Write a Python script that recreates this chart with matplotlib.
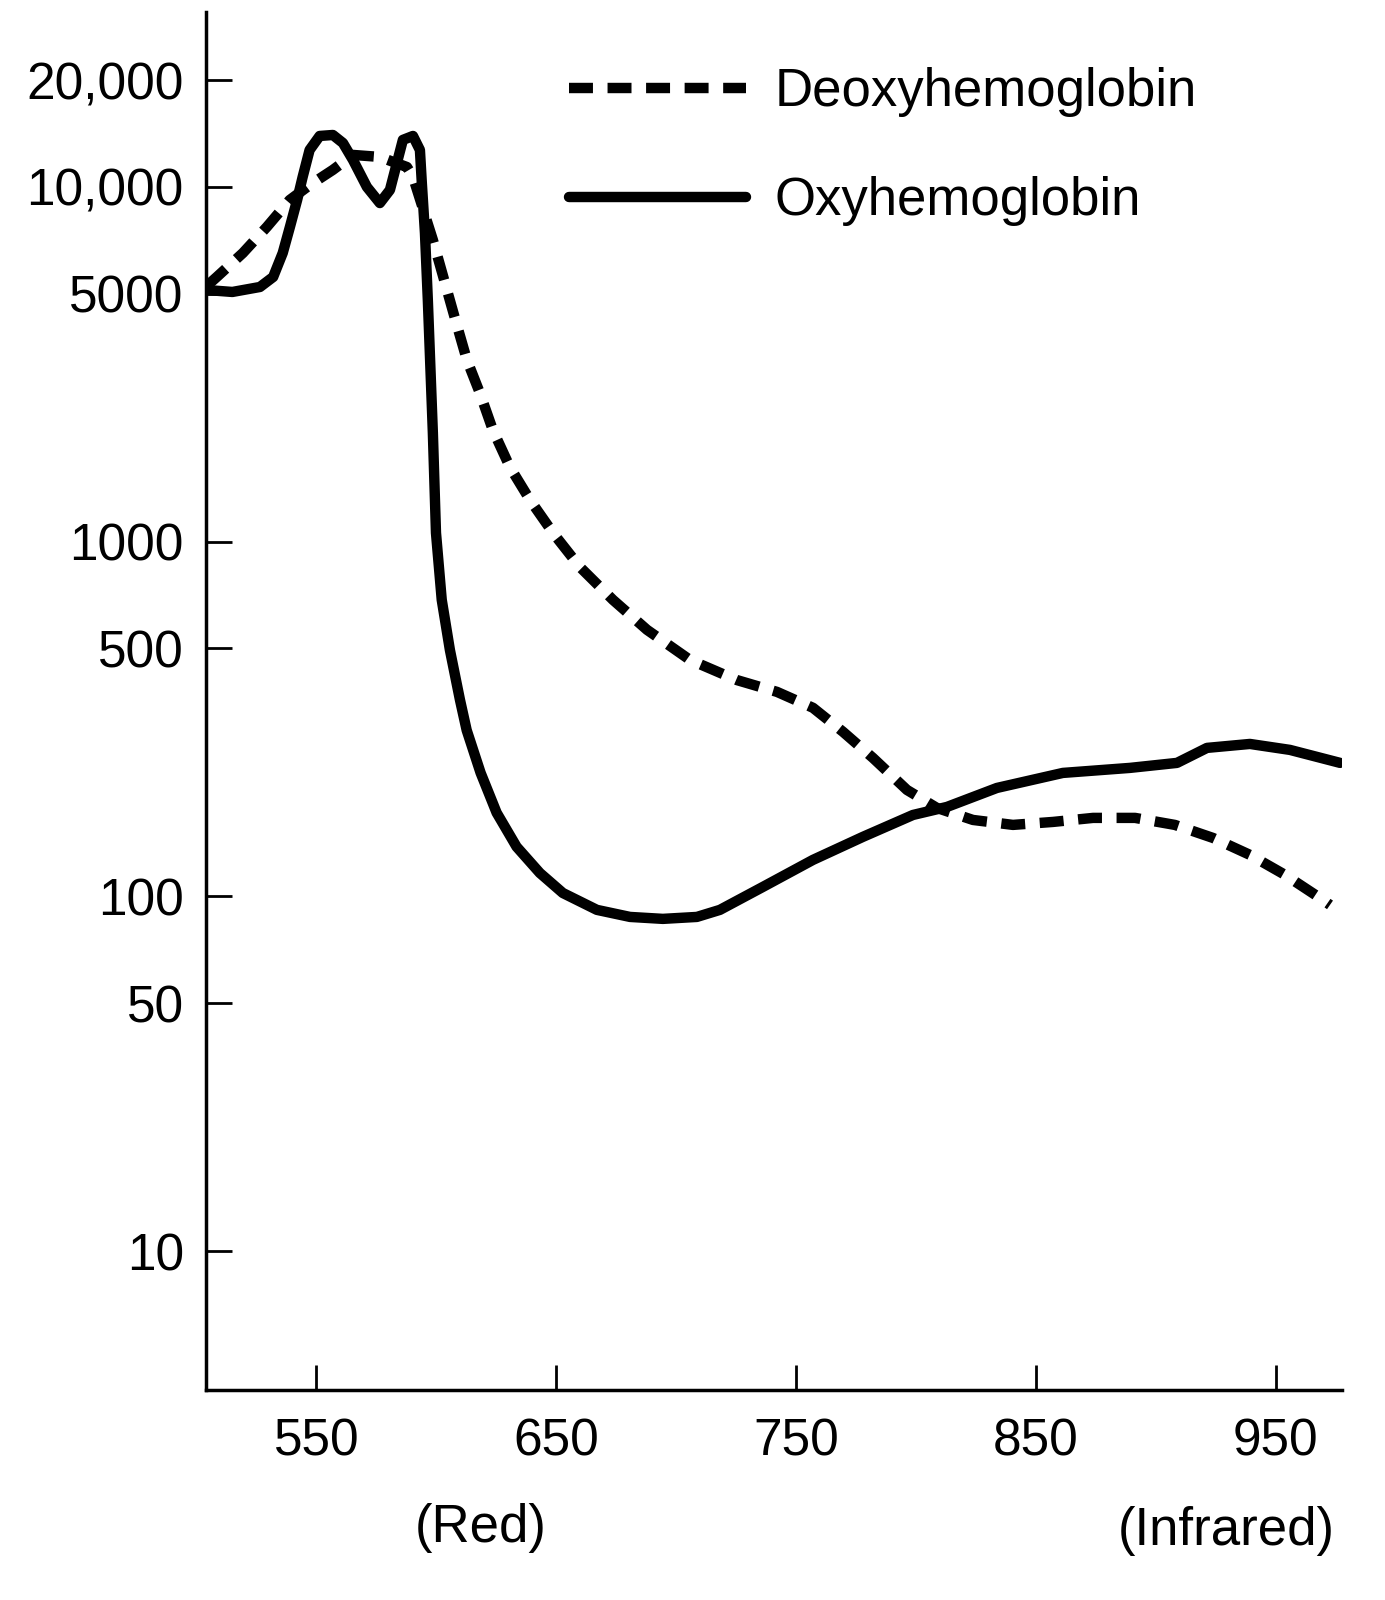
import matplotlib.pyplot as plt
import matplotlib.ticker as mticker

plt.rcParams['font.family'] = ['Liberation Sans', 'DejaVu Sans']

# wavelength (nm) and absorbance
oxy_nm = [504, 515, 526.5, 532, 536, 539, 542, 544.3, 547.2, 551.4, 556.9, 561.1,
          565.3, 571.1, 576.5, 580.7, 583.6, 586.1, 590.3, 593.2, 594, 595.3, 596.5,
          598.6, 599.9, 602.3, 605.7, 609.9, 612.7, 618.5, 625.2, 633.5, 643.2, 652.8,
          667, 680.8, 694.5, 708.7, 718.3, 736.2, 757.1, 777.9, 798.8, 813, 833.8,
          861.3, 889.3, 908.9, 921.4, 939.3, 956, 976.9]
oxy_val = [5120, 5054, 5220, 5570, 6510, 7710, 9180, 10660, 12700, 13910, 14000, 13290,
           11900, 9990, 9000, 9800, 11670, 13560, 13910, 12700, 10250, 7410, 4800,
           2024, 1058, 685, 495, 358, 294, 223, 172, 138, 116.4, 102.2,
           91.6, 87.5, 86.4, 87.5, 91.6, 106.3, 126.7, 147.1, 169.6, 178.7, 202.1,
           222.8, 230.2, 237.8, 262.1, 268.9, 258.7, 237.8]

deoxy_nm = [504.8, 508.5, 519.4, 529.4, 538.9, 547.3, 556.9, 565.3, 576.5, 587.8, 590.3,
            598.6, 607.4, 612.8, 618.2, 623.6, 630.7, 639.1, 648.7, 659.9, 673.7, 687.9,
            705.8, 725.4, 742.1, 757.1, 769.6, 782.1, 796.3, 808.8, 823.8, 840.5, 857.2,
            873.9, 891.4, 908, 923.9, 939.3, 953.9, 968.5, 972.7]
deoxy_val = [5290, 5570, 6510, 7710, 9180, 10120, 11160, 12300, 12140, 11370, 10660,
             7085, 4355, 3250, 2624, 2064, 1623, 1310, 1058, 848, 685, 564,
             464, 407, 377, 340, 291, 245.6, 199.5, 177.5, 164.2, 159, 162.1,
             166.4, 166.4, 159, 146.1, 130.9, 115, 99, 94.6]

y_ticks = [10, 50, 100, 500, 1000, 5000, 10000, 20000]
y_labels = ['10', '50', '100', '500', '1000', '5000', '10,000', '20,000']
x_ticks = [550, 650, 750, 850, 950]

W, H = 1385, 1600
fig = plt.figure(figsize=(W / 100, H / 100), dpi=100)
ax = fig.add_axes([206 / W, 1 - 1390 / H, (1342 - 206) / W, (1390 - 12) / H])

ax.plot(deoxy_nm, deoxy_val, color='black', lw=7.5, linestyle=(0, (2.3, 1.4)),
        dash_capstyle='butt', label='Deoxyhemoglobin')
ax.plot(oxy_nm, oxy_val, color='black', lw=7.5, solid_capstyle='round',
        solid_joinstyle='round', label='Oxyhemoglobin')

ax.set_yscale('log')
ax.set_xlim(504, 977.7)
ax.set_ylim(4.06, 31100)
ax.yaxis.set_major_locator(mticker.FixedLocator(y_ticks))
ax.yaxis.set_major_formatter(mticker.FixedFormatter(y_labels))
ax.yaxis.set_minor_locator(mticker.NullLocator())
ax.set_xticks(x_ticks)
ax.set_xticklabels([str(t) for t in x_ticks])

for s in ['top', 'right']:
    ax.spines[s].set_visible(False)
for s in ['left', 'bottom']:
    ax.spines[s].set_linewidth(2.5)

ax.tick_params(axis='y', direction='in', length=19, width=2, pad=16, labelsize=37)
ax.tick_params(axis='x', direction='in', length=18, width=2, pad=20, labelsize=37)

ax.legend(loc='upper left', bbox_to_anchor=(569 / W, 1 - 67 / H),
          bbox_transform=fig.transFigure, frameon=False, fontsize=38,
          handlelength=3.35, handletextpad=0.54, labelspacing=1.12, borderpad=0,
          borderaxespad=0)

fig.text(481 / W, 1 - 1528 / H, '(Red)', ha='center', va='center', fontsize=38)
fig.text(1226 / W, 1 - 1531 / H, '(Infrared)', ha='center', va='center', fontsize=38)

fig.savefig('out.png', dpi=100, facecolor='white')
